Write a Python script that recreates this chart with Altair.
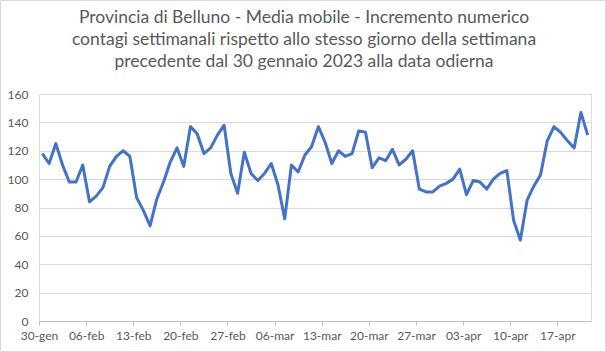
import json
import altair as alt
import pandas as pd

start_date = "2023-01-30"
values = [
    118, 111, 125, 110, 98, 98, 110, 84, 88, 94,
    109, 116, 120, 116, 87, 78, 67, 86, 98, 112,
    122, 109, 137, 132, 118, 122, 131, 138, 104, 90,
    119, 104, 99, 104, 111, 96, 72, 110, 105, 117,
    123, 137, 126, 111, 120, 116, 118, 134, 133, 108,
    115, 113, 121, 110, 114, 120, 93, 91, 91, 95,
    97, 100, 107, 89, 99, 98, 93, 100, 104, 106,
    71, 57, 85, 95, 103, 127, 137, 133, 127, 122,
    147, 131,
]
tick_labels = ["30-gen", "06-feb", "13-feb", "20-feb", "27-feb", "06-mar",
               "13-mar", "20-mar", "27-mar", "03-apr", "10-apr", "17-apr"]
y_ticks = [0, 20, 40, 60, 80, 100, 120, 140, 160]
title_lines = [
    "Provincia di Belluno - Media mobile - Incremento numerico",
    "contagi settimanali rispetto allo stesso giorno della settimana",
    "precedente dal 30 gennaio 2023 alla data odierna",
]

dates = pd.date_range(start_date, periods=len(values), freq="D")
df = pd.DataFrame({
    "giorno": dates.strftime("%Y-%m-%d"),
    "i": range(len(values)),
    "valore": values,
})

n = len(values)
label_expr = json.dumps(tick_labels) + "[round(datum.value / 7)]"

W, H = 552, 227
PL, PT = 39, 94

line = alt.Chart(df).transform_calculate(
    xpos="datum.i + 0.5"
).mark_line(color="#4472C4", strokeWidth=3, strokeJoin="round").encode(
    x=alt.X("xpos:Q",
            scale=alt.Scale(domain=[0, n], nice=False, zero=False),
            axis=alt.Axis(values=[7 * k for k in range(len(tick_labels))],
                          labelExpr=label_expr, grid=False, title=None,
                          domainColor="#BFBFBF", tickColor="#BFBFBF",
                          tickSize=4, labelColor="#595959", labelFontSize=12,
                          labelFont="Lato", labelPadding=5, labelFlush=False,
                          labelOverlap=False)),
    y=alt.Y("valore:Q",
            scale=alt.Scale(domain=[0, 160], nice=False),
            axis=alt.Axis(values=y_ticks, title=None, domain=False, ticks=False,
                          gridColor="#D9D9D9", labelColor="#595959",
                          labelFontSize=12, labelFont="Lato", labelPadding=11)),
)

border = alt.Chart(pd.DataFrame({"k": [0]})).mark_rect(
    fill=None, stroke="#D9D9D9", strokeWidth=1, clip=False
).encode(
    x=alt.value(-PL + 0.5), x2=alt.value(606 - PL - 0.5),
    y=alt.value(-PT + 0.5), y2=alt.value(352 - PT - 0.5),
)

title = alt.Chart(pd.DataFrame({"k": [0]})).mark_text(
    text=title_lines, font="Lato", fontSize=17.5, color="#595959",
    align="center", baseline="top", lineHeight=22, clip=False,
).encode(
    x=alt.value(304 - PL), y=alt.value(9 - PT),
)

chart = alt.layer(border, line, title).properties(
    width=W, height=H,
    autosize=alt.AutoSizeParams(type="none"),
    padding={"left": PL, "top": PT, "right": 606 - PL - W, "bottom": 352 - PT - H},
).configure_view(stroke=None).configure(background="white")

chart.save("out.html", embed_options={"renderer": "svg", "actions": False})
